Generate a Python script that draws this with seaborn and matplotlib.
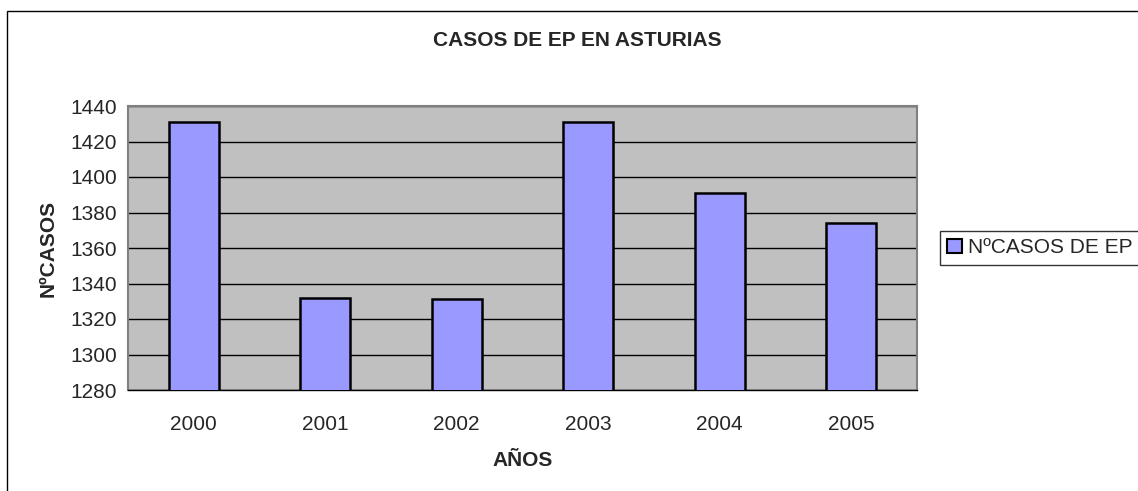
import matplotlib
matplotlib.use("Agg")
import matplotlib.pyplot as plt
import seaborn as sns
from matplotlib.patches import Patch, Rectangle

years = ["2000", "2001", "2002", "2003", "2004", "2005"]
cases = [1431, 1332, 1331, 1431, 1391, 1374]
series_name = "NºCASOS DE EP"
y_ticks = [1280, 1300, 1320, 1340, 1360, 1380, 1400, 1420, 1440]

sns.set_style("white")
plt.rcParams['font.family'] = ['Liberation Sans', 'DejaVu Sans']

fig = plt.figure(figsize=(11.38, 4.91), dpi=100)
ax = fig.add_axes([128 / 1138, 1 - 390 / 491, (917 - 128) / 1138, (390 - 106) / 491])
ax.set_facecolor("#C0C0C0")

sns.barplot(x=years, y=cases, color="#9999FF", edgecolor="black",
            linewidth=1.8, width=0.38, saturation=1, ax=ax, zorder=3)

ax.set_ylim(1280, 1440)
ax.set_yticks(y_ticks)
ax.set_xlim(-0.5, 5.5)
ax.grid(axis="y", color="black", linewidth=1, zorder=1)
ax.set_axisbelow(True)

ax.set_xticks(range(6))
ax.set_xticklabels(years)
ax.set_xticks([i - 0.5 for i in range(7)], minor=True)
ax.tick_params(axis="x", which="major", length=0, pad=18, labelsize=15)
ax.tick_params(axis="x", which="minor", length=6, width=1, color="black", direction="out")
ax.tick_params(axis="y", length=5, width=1, color="black", direction="out", labelsize=15, pad=3)

for side in ["top", "right", "left"]:
    ax.spines[side].set_color("#808080")
    ax.spines[side].set_linewidth(1.5)
ax.spines["bottom"].set_color("black")
ax.spines["bottom"].set_linewidth(1)

ax.set_xlabel("AÑOS", fontsize=15, fontweight="bold", labelpad=12)
ax.set_ylabel("NºCASOS", fontsize=15, fontweight="bold", labelpad=9)

fig.text(577 / 1138, 1 - 40 / 491, "CASOS DE EP EN ASTURIAS", ha="center", va="center",
         fontsize=15, fontweight="bold")

handle = Patch(facecolor="#9999FF", edgecolor="black", linewidth=1.5)
leg = fig.legend([handle], [series_name], loc="upper left",
                 bbox_to_anchor=(940 / 1138, 1 - 231 / 491), fontsize=15,
                 frameon=True, fancybox=False, borderaxespad=0, handlelength=0.7,
                 handleheight=0.7, handletextpad=0.3, borderpad=0.35)
leg.get_frame().set_edgecolor("black")
leg.get_frame().set_linewidth(1)

fig.patches.append(Rectangle((7 / 1138, -0.05), 1.1, 1 - 11 / 491 + 0.05,
                             transform=fig.transFigure, fill=False,
                             edgecolor="black", linewidth=1, zorder=0))

fig.savefig("out.png", dpi=100)
